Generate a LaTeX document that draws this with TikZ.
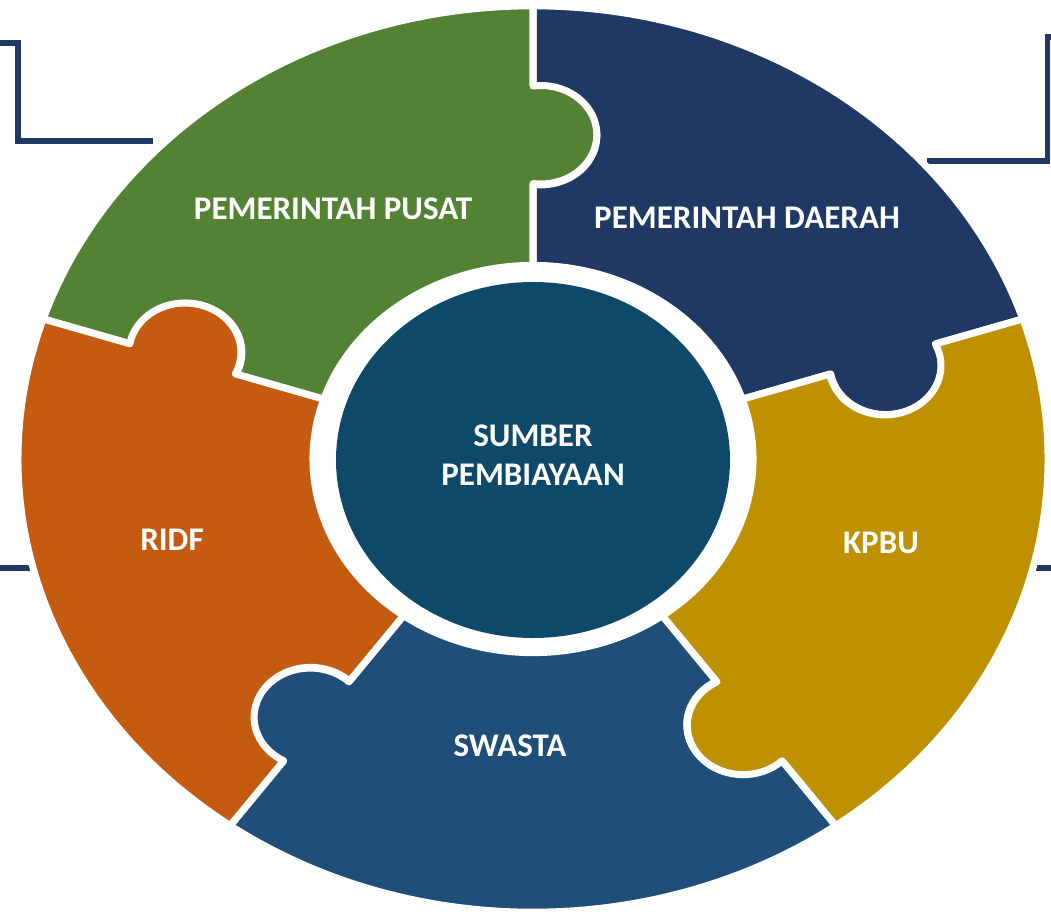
\documentclass[tikz,border=0pt]{standalone}
\usepackage{fontspec}
\setmainfont{Carlito}
\usetikzlibrary{shapes.geometric}

\definecolor{pusatgreen}{HTML}{548235}
\definecolor{daerahblue}{HTML}{203864}
\definecolor{ridforange}{HTML}{C55A11}
\definecolor{kpbugold}{HTML}{BF9000}
\definecolor{swastablue}{HTML}{1F4E79}
\definecolor{sumberteal}{HTML}{0E496A}
\definecolor{linkblue}{HTML}{203864}

\begin{document}
\begin{tikzpicture}[x=0.1mm, y=0.1mm,
    piece/.style={draw=white, line width=2pt, line join=round},
    tag/.style={text=white, align=center, font=\bfseries\fontsize{9.4}{11}\selectfont},
    link/.style={draw=linkblue, line width=1.6pt}]

\useasboundingbox (-533,-455) rectangle (518,459);

% stubs of the links that leave the picture
\coordinate (tlA) at (-533,416);
\coordinate (tlB) at (-515,416);
\coordinate (tlC) at (-515,318);
\coordinate (tlD) at (-380,318);
\coordinate (trA) at (518,422);
\coordinate (trB) at (514.5,422);
\coordinate (trC) at (514.5,298);
\coordinate (trD) at (394,298);
\coordinate (lA) at (-533,-109);
\coordinate (lB) at (-500,-109);
\coordinate (rA) at (500,-109);
\coordinate (rB) at (518,-109);
\draw[link] (tlA) -- (tlB) -- (tlC) -- (tlD);
\draw[link] (trA) -- (trB) -- (trC) -- (trD);
\draw[link] (lA) -- (lB);
\draw[link] (rA) -- (rB);

% ring of five puzzle pieces, 72 degrees each
\begin{scope}[yscale=0.88]
\foreach \lo/\col in {18/daerahblue, 90/pusatgreen, 162/ridforange,
                      234/swastablue, 306/kpbugold}{
  \pgfmathsetmacro\hi{\lo+72}
  \path[piece, fill=\col] (\hi:515) -- (\hi:423)
     arc[start angle=\hi+8, end angle=\hi-188, radius=56] -- (\hi:220)
     arc[start angle=\hi, end angle=\lo, radius=220] -- (\lo:313)
     arc[start angle=\lo-188, end angle=\lo+8, radius=56] -- (\lo:515)
     arc[start angle=\lo, end angle=\hi, radius=515] -- cycle;
}
\end{scope}

\node[ellipse, fill=sumberteal, minimum width=39.4mm, minimum height=35.6mm,
      inner sep=0pt] (sumber) at (0,-1) {};
\node[tag, font=\bfseries\fontsize{9.4}{11.2}\selectfont] (sumbertext)
      at ([yshift=0.5mm]sumber.center) {SUMBER\\PEMBIAYAAN};

\node[tag] (pusat)  at (-200,250) {PEMERINTAH PUSAT};
\node[tag] (daerah) at (214,241)  {PEMERINTAH DAERAH};
\node[tag] (ridf)   at (-361,-81) {RIDF};
\node[tag] (kpbu)   at (348,-84)  {KPBU};
\node[tag] (swasta) at (-23,-287) {SWASTA};

\end{tikzpicture}
\end{document}
